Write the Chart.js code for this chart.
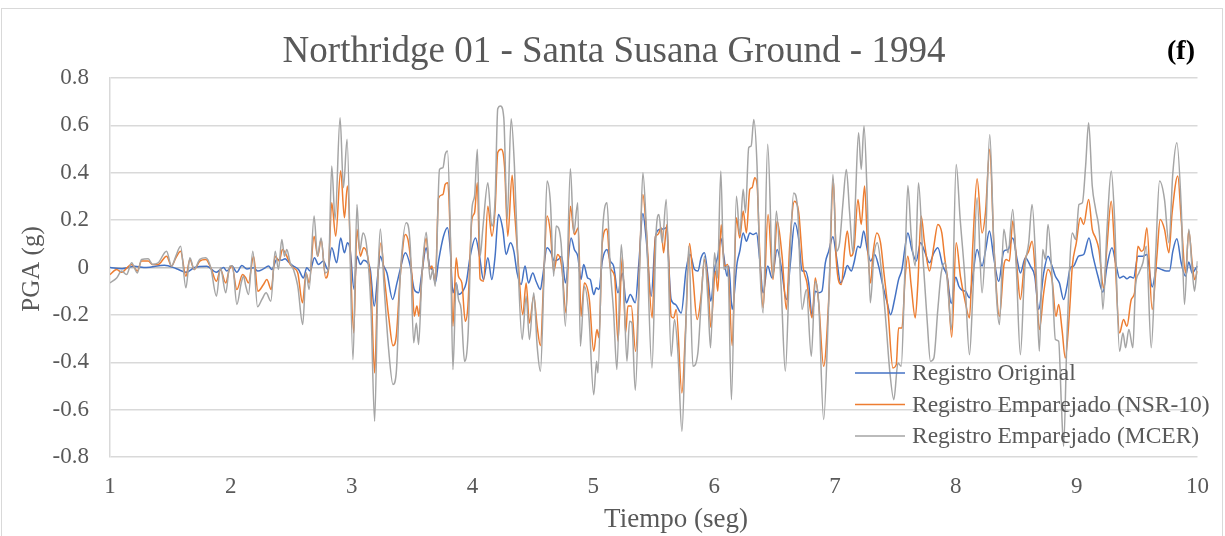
<!DOCTYPE html>
<html><head><meta charset="utf-8">
<script src="https://cdn.jsdelivr.net/npm/chart.js@4.4.1/dist/chart.umd.min.js"></script>
<style>html,body{margin:0;padding:0;background:#fff;}canvas{display:block;}</style>
</head><body>
<canvas id="c" width="1225" height="536"></canvas>
<script>
const chartTitle = 'Northridge 01 - Santa Susana Ground - 1994';
const panelTag = '(f)';
const xAxisTitle = 'Tiempo (seg)';
const yAxisTitle = 'PGA (g)';
const seriesNames = ['Registro Original', 'Registro Emparejado (NSR-10)', 'Registro Emparejado (MCER)'];
const seriesColors = ['#4472C4', '#ED7D31', '#A5A5A5'];
const xMin = 1, xMax = 10, xStep = 1;
const yMin = -0.8, yMax = 0.8, yStep = 0.2;

// [tiempo (s), PGA (g)]
const original = [[1.000,0.000],[1.100,-0.005],[1.200,0.005],[1.300,0.000],[1.450,0.010],[1.550,-0.005],[1.630,-0.020],[1.700,0.000],[1.800,0.005],[1.880,-0.020],[1.940,0.000],[1.967,-0.015],[2.009,0.006],[2.050,-0.020],[2.091,0.008],[2.133,-0.006],[2.188,-0.001],[2.224,-0.015],[2.270,-0.006],[2.312,0.006],[2.339,-0.008],[2.381,0.034],[2.422,0.031],[2.449,0.037],[2.477,0.023],[2.518,0.006],[2.560,-0.008],[2.601,-0.044],[2.628,-0.001],[2.656,-0.015],[2.692,0.041],[2.725,0.013],[2.766,0.027],[2.802,-0.008],[2.835,0.083],[2.876,0.020],[2.909,0.125],[2.940,0.062],[2.965,0.104],[2.987,0.076],[3.020,-0.093],[3.044,0.048],[3.072,0.013],[3.099,0.031],[3.127,0.023],[3.154,-0.008],[3.187,-0.163],[3.215,-0.037],[3.237,0.048],[3.265,0.006],[3.292,-0.023],[3.339,-0.135],[3.375,-0.065],[3.402,-0.008],[3.444,0.062],[3.485,0.006],[3.518,-0.093],[3.554,-0.107],[3.581,-0.023],[3.617,0.083],[3.645,0.006],[3.672,-0.015],[3.692,-0.065],[3.719,0.027],[3.760,0.132],[3.793,0.168],[3.816,0.076],[3.838,-0.107],[3.865,-0.065],[3.884,-0.114],[3.920,-0.100],[3.948,-0.065],[3.981,0.048],[4.025,0.125],[4.058,0.048],[4.091,-0.051],[4.127,0.041],[4.160,-0.051],[4.187,0.048],[4.215,0.224],[4.251,0.161],[4.278,0.055],[4.314,0.104],[4.342,0.069],[4.369,-0.023],[4.402,-0.072],[4.435,0.006],[4.463,-0.065],[4.499,-0.023],[4.526,-0.058],[4.562,-0.093],[4.581,-0.037],[4.617,0.083],[4.650,0.062],[4.678,0.027],[4.711,0.034],[4.738,0.048],[4.769,-0.065],[4.816,0.125],[4.843,0.076],[4.871,0.048],[4.898,-0.051],[4.920,0.013],[4.953,-0.044],[4.975,-0.051],[5.003,-0.114],[5.025,-0.086],[5.047,-0.093],[5.074,0.027],[5.113,0.076],[5.140,0.027],[5.168,0.006],[5.204,-0.107],[5.240,-0.023],[5.273,-0.149],[5.306,-0.114],[5.347,-0.149],[5.377,0.020],[5.410,0.228],[5.438,0.118],[5.479,-0.121],[5.515,0.132],[5.548,0.161],[5.581,0.163],[5.603,0.168],[5.644,-0.135],[5.680,-0.156],[5.727,-0.192],[5.768,-0.008],[5.801,0.055],[5.837,-0.008],[5.865,-0.015],[5.892,0.041],[5.920,0.062],[5.948,-0.037],[5.972,-0.142],[6.003,-0.008],[6.030,0.048],[6.055,0.125],[6.080,0.048],[6.107,-0.037],[6.121,0.006],[6.149,-0.177],[6.190,0.020],[6.212,0.069],[6.240,0.146],[6.267,0.111],[6.295,0.146],[6.322,0.139],[6.350,0.146],[6.377,0.034],[6.405,-0.107],[6.443,0.006],[6.479,-0.044],[6.521,0.076],[6.554,0.006],[6.598,-0.135],[6.631,0.020],[6.667,0.189],[6.700,0.118],[6.727,-0.015],[6.755,-0.015],[6.782,-0.065],[6.810,-0.206],[6.837,-0.100],[6.865,-0.107],[6.892,-0.100],[6.920,0.020],[6.948,0.069],[6.983,0.130],[7.011,0.048],[7.047,-0.065],[7.074,-0.037],[7.102,0.008],[7.135,-0.015],[7.157,0.020],[7.190,0.090],[7.209,0.083],[7.237,0.154],[7.267,0.076],[7.295,0.027],[7.328,0.055],[7.361,0.006],[7.397,-0.079],[7.432,-0.149],[7.460,-0.199],[7.493,-0.135],[7.526,-0.051],[7.554,-0.008],[7.581,0.090],[7.603,0.146],[7.636,0.076],[7.672,0.027],[7.708,0.104],[7.741,0.069],[7.782,0.020],[7.818,0.062],[7.851,0.083],[7.892,0.006],[7.928,-0.037],[7.962,-0.152],[7.999,-0.041],[8.025,-0.079],[8.052,-0.096],[8.080,-0.100],[8.113,-0.128],[8.140,-0.037],[8.176,0.076],[8.217,0.006],[8.245,0.069],[8.278,0.154],[8.314,0.041],[8.355,-0.058],[8.397,0.069],[8.432,0.076],[8.471,0.125],[8.507,0.034],[8.534,-0.023],[8.576,0.041],[8.617,0.006],[8.653,-0.037],[8.686,-0.177],[8.727,-0.023],[8.763,0.048],[8.796,0.006],[8.824,-0.037],[8.857,-0.065],[8.892,-0.135],[8.920,-0.079],[8.948,-0.001],[8.975,0.006],[9.016,0.048],[9.058,0.055],[9.102,0.125],[9.135,0.048],[9.176,-0.037],[9.217,-0.104],[9.251,0.006],[9.292,0.083],[9.328,0.006],[9.355,-0.044],[9.388,-0.037],[9.416,-0.048],[9.443,-0.039],[9.471,-0.044],[9.507,0.048],[9.548,0.048],[9.581,0.055],[9.625,-0.082],[9.664,-0.001],[9.700,-0.008],[9.741,-0.015],[9.768,-0.015],[9.796,0.069],[9.829,0.121],[9.865,0.020],[9.901,-0.037],[9.928,0.023],[9.956,-0.023],[9.989,-0.001],[10.000,0.006]];

const nsr10 = [[1.000,-0.030],[1.055,-0.008],[1.096,-0.020],[1.179,0.013],[1.226,-0.015],[1.261,0.027],[1.316,0.027],[1.352,0.013],[1.399,0.013],[1.468,0.048],[1.509,0.006],[1.545,0.041],[1.584,0.069],[1.628,-0.037],[1.661,0.034],[1.697,-0.008],[1.743,0.027],[1.793,0.034],[1.834,-0.001],[1.881,-0.058],[1.914,-0.008],[1.958,-0.065],[1.987,-0.008],[2.009,0.006],[2.050,-0.093],[2.097,-0.030],[2.124,-0.044],[2.146,-0.065],[2.188,0.048],[2.224,-0.100],[2.270,-0.072],[2.298,-0.051],[2.334,-0.093],[2.367,0.048],[2.400,0.027],[2.427,0.076],[2.463,0.048],[2.491,0.013],[2.518,-0.001],[2.554,-0.023],[2.593,-0.149],[2.623,-0.023],[2.648,-0.065],[2.689,0.132],[2.719,0.048],[2.747,0.118],[2.785,-0.044],[2.808,-0.008],[2.835,0.273],[2.868,0.132],[2.909,0.408],[2.940,0.210],[2.965,0.344],[3.017,-0.276],[3.044,0.161],[3.072,0.048],[3.099,0.083],[3.132,0.048],[3.160,-0.079],[3.190,-0.445],[3.215,-0.065],[3.243,0.104],[3.270,-0.037],[3.306,-0.206],[3.342,-0.330],[3.369,-0.290],[3.402,-0.037],[3.444,0.139],[3.471,0.104],[3.499,-0.037],[3.518,-0.206],[3.540,-0.163],[3.557,-0.206],[3.581,-0.037],[3.617,0.125],[3.645,-0.008],[3.664,0.006],[3.692,-0.065],[3.719,0.294],[3.755,0.308],[3.774,0.351],[3.796,0.358],[3.816,0.132],[3.838,-0.248],[3.865,0.041],[3.884,-0.037],[3.912,-0.065],[3.940,-0.227],[3.962,-0.163],[3.995,0.203],[4.017,0.231],[4.040,0.358],[4.063,-0.048],[4.091,-0.058],[4.127,0.259],[4.160,0.132],[4.187,0.245],[4.209,0.485],[4.237,0.499],[4.265,0.428],[4.292,0.132],[4.328,0.389],[4.347,0.245],[4.375,0.048],[4.416,-0.199],[4.444,-0.065],[4.471,-0.234],[4.507,-0.121],[4.535,-0.248],[4.562,-0.330],[4.590,-0.037],[4.617,0.217],[4.645,0.146],[4.672,-0.015],[4.705,0.055],[4.738,0.006],[4.774,-0.192],[4.810,0.259],[4.843,0.139],[4.876,0.168],[4.898,-0.206],[4.926,-0.065],[4.967,-0.135],[5.003,-0.354],[5.030,-0.262],[5.047,-0.297],[5.074,0.104],[5.113,0.163],[5.140,-0.001],[5.176,-0.037],[5.204,-0.311],[5.240,0.048],[5.267,-0.276],[5.286,-0.163],[5.314,-0.163],[5.350,-0.354],[5.410,0.308],[5.438,0.161],[5.487,-0.213],[5.515,0.132],[5.534,0.139],[5.562,0.168],[5.581,0.062],[5.609,0.182],[5.644,-0.206],[5.664,-0.213],[5.686,-0.177],[5.733,-0.530],[5.763,-0.262],[5.796,0.101],[5.824,-0.037],[5.859,-0.220],[5.892,-0.121],[5.920,0.034],[5.948,-0.065],[5.972,-0.252],[6.011,-0.015],[6.030,-0.100],[6.058,0.180],[6.085,0.006],[6.113,0.013],[6.149,-0.330],[6.184,0.210],[6.212,0.125],[6.240,0.238],[6.267,0.146],[6.295,0.330],[6.314,0.337],[6.336,0.379],[6.355,0.351],[6.377,0.062],[6.405,-0.170],[6.446,0.224],[6.487,-0.051],[6.521,0.196],[6.562,0.048],[6.598,-0.177],[6.625,0.090],[6.664,0.280],[6.700,0.231],[6.735,0.006],[6.768,-0.065],[6.810,-0.213],[6.837,-0.044],[6.865,-0.149],[6.906,-0.417],[6.948,-0.135],[6.986,0.372],[7.011,0.027],[7.052,-0.072],[7.080,0.076],[7.102,0.154],[7.129,0.048],[7.157,0.076],[7.190,0.287],[7.217,0.182],[7.245,0.344],[7.267,0.118],[7.295,-0.065],[7.314,0.055],[7.347,0.146],[7.377,0.104],[7.405,-0.023],[7.438,-0.177],[7.479,-0.424],[7.507,-0.410],[7.526,-0.255],[7.554,-0.255],[7.581,-0.037],[7.603,0.048],[7.631,-0.079],[7.664,-0.213],[7.686,-0.065],[7.713,0.217],[7.741,0.104],[7.782,-0.015],[7.818,0.090],[7.851,0.182],[7.884,0.146],[7.906,0.048],[7.934,-0.065],[7.966,-0.294],[8.003,0.104],[8.038,-0.037],[8.074,-0.135],[8.113,-0.213],[8.140,0.090],[8.176,0.375],[8.217,0.146],[8.245,0.231],[8.281,0.499],[8.314,0.104],[8.361,-0.206],[8.397,0.006],[8.416,0.034],[8.443,0.027],[8.471,0.196],[8.507,-0.008],[8.534,-0.135],[8.570,0.027],[8.603,0.069],[8.631,0.111],[8.664,-0.065],[8.691,-0.262],[8.727,-0.107],[8.763,-0.008],[8.796,-0.051],[8.829,-0.206],[8.851,-0.156],[8.879,-0.262],[8.906,-0.382],[8.942,-0.177],[8.964,0.006],[8.997,0.104],[9.030,0.210],[9.058,0.182],[9.099,0.287],[9.129,0.161],[9.157,0.125],[9.184,0.076],[9.223,-0.086],[9.251,0.090],[9.286,0.280],[9.314,0.076],[9.355,-0.276],[9.388,-0.220],[9.416,-0.248],[9.452,-0.135],[9.479,-0.107],[9.507,0.090],[9.534,0.069],[9.554,0.076],[9.581,0.168],[9.625,-0.177],[9.664,0.048],[9.691,0.203],[9.727,0.161],[9.763,0.062],[9.790,0.231],[9.837,0.386],[9.865,0.203],[9.901,-0.023],[9.928,0.154],[9.956,0.020],[9.975,-0.051],[10.000,-0.015]];

const mcer = [[1.000,-0.065],[1.055,-0.044],[1.096,-0.015],[1.137,-0.030],[1.179,0.020],[1.226,-0.023],[1.261,0.034],[1.316,0.037],[1.352,0.013],[1.399,0.020],[1.468,0.069],[1.509,0.006],[1.545,0.048],[1.584,0.090],[1.628,-0.086],[1.661,0.041],[1.697,-0.008],[1.743,0.034],[1.793,0.041],[1.834,-0.001],[1.881,-0.121],[1.914,-0.001],[1.958,-0.107],[1.991,0.006],[2.014,0.006],[2.050,-0.156],[2.086,-0.065],[2.105,-0.037],[2.124,-0.079],[2.146,-0.114],[2.182,0.069],[2.221,-0.166],[2.257,-0.135],[2.292,-0.107],[2.331,-0.142],[2.367,0.069],[2.394,-0.008],[2.422,0.118],[2.444,0.048],[2.463,0.076],[2.491,0.020],[2.518,-0.008],[2.554,-0.079],[2.595,-0.241],[2.623,-0.023],[2.648,-0.093],[2.689,0.217],[2.717,0.048],[2.747,0.125],[2.780,-0.023],[2.808,-0.008],[2.835,0.428],[2.863,0.203],[2.904,0.632],[2.932,0.337],[2.962,0.541],[3.011,-0.389],[3.044,0.266],[3.066,0.069],[3.094,0.146],[3.127,0.076],[3.160,-0.177],[3.190,-0.649],[3.218,-0.037],[3.237,0.163],[3.270,-0.093],[3.306,-0.346],[3.342,-0.494],[3.369,-0.445],[3.402,-0.037],[3.452,0.189],[3.485,0.090],[3.513,-0.318],[3.535,-0.234],[3.554,-0.325],[3.581,-0.037],[3.617,0.149],[3.650,-0.051],[3.672,-0.008],[3.692,-0.079],[3.727,0.414],[3.755,0.421],[3.774,0.477],[3.793,0.492],[3.816,0.161],[3.838,-0.431],[3.865,-0.065],[3.884,-0.135],[3.906,-0.177],[3.934,-0.396],[3.964,-0.276],[3.995,0.245],[4.017,0.301],[4.040,0.499],[4.063,0.048],[4.086,0.168],[4.127,0.358],[4.160,0.175],[4.187,0.287],[4.209,0.670],[4.232,0.682],[4.259,0.632],[4.287,0.203],[4.320,0.628],[4.347,0.428],[4.375,0.034],[4.411,-0.304],[4.444,-0.121],[4.471,-0.304],[4.507,-0.107],[4.535,-0.332],[4.562,-0.438],[4.590,-0.065],[4.617,0.365],[4.645,0.273],[4.672,-0.037],[4.692,0.175],[4.733,0.104],[4.769,-0.248],[4.810,0.417],[4.838,0.146],[4.871,0.273],[4.893,-0.332],[4.926,-0.079],[4.962,-0.195],[5.003,-0.537],[5.027,-0.396],[5.038,-0.445],[5.074,0.132],[5.113,0.273],[5.140,-0.001],[5.168,-0.192],[5.195,-0.431],[5.231,0.097],[5.251,-0.065],[5.278,-0.396],[5.300,-0.227],[5.319,-0.234],[5.347,-0.518],[5.383,-0.008],[5.410,0.400],[5.438,0.175],[5.485,-0.424],[5.521,0.161],[5.543,0.224],[5.570,0.104],[5.603,0.287],[5.644,-0.375],[5.672,-0.220],[5.700,-0.361],[5.733,-0.692],[5.763,-0.290],[5.790,0.090],[5.824,-0.417],[5.865,-0.361],[5.892,-0.149],[5.920,0.048],[5.948,-0.135],[5.970,-0.339],[6.003,0.062],[6.027,-0.045],[6.055,0.407],[6.080,-0.008],[6.113,0.006],[6.143,-0.558],[6.184,0.301],[6.212,0.139],[6.240,0.330],[6.259,0.231],[6.286,0.506],[6.306,0.513],[6.328,0.625],[6.355,0.428],[6.377,0.020],[6.405,-0.192],[6.443,0.520],[6.487,-0.044],[6.515,0.238],[6.554,-0.079],[6.589,-0.438],[6.625,0.020],[6.658,0.315],[6.691,0.245],[6.727,-0.177],[6.763,-0.093],[6.804,-0.375],[6.837,-0.058],[6.865,-0.149],[6.906,-0.642],[6.948,-0.149],[6.983,0.393],[7.011,0.069],[7.038,0.104],[7.066,0.273],[7.094,0.414],[7.121,0.231],[7.149,0.062],[7.168,0.273],[7.195,0.569],[7.217,0.414],[7.240,0.597],[7.267,0.287],[7.292,-0.149],[7.322,0.048],[7.350,0.104],[7.383,-0.008],[7.424,-0.248],[7.452,-0.431],[7.487,-0.558],[7.521,-0.403],[7.548,-0.417],[7.576,-0.051],[7.603,0.346],[7.631,0.132],[7.664,0.006],[7.691,0.358],[7.727,0.048],[7.763,-0.227],[7.790,-0.396],[7.818,-0.382],[7.851,-0.177],[7.879,-0.023],[7.912,0.020],[7.939,-0.121],[7.963,-0.262],[8.003,0.435],[8.035,0.210],[8.074,-0.037],[8.113,-0.368],[8.140,-0.121],[8.176,0.294],[8.217,-0.107],[8.245,0.104],[8.281,0.562],[8.314,0.104],[8.361,-0.241],[8.397,0.161],[8.432,0.062],[8.471,0.245],[8.501,-0.008],[8.534,-0.368],[8.570,-0.008],[8.603,0.104],[8.631,0.266],[8.664,-0.008],[8.691,-0.354],[8.719,0.076],[8.741,0.034],[8.763,0.182],[8.796,-0.037],[8.824,-0.304],[8.851,-0.311],[8.873,-0.572],[8.892,-0.755],[8.920,-0.290],[8.964,0.146],[8.992,0.118],[9.019,0.266],[9.047,0.273],[9.074,0.428],[9.099,0.611],[9.129,0.344],[9.157,0.245],[9.190,0.132],[9.217,-0.177],[9.251,0.161],[9.286,0.407],[9.314,0.203],[9.355,-0.354],[9.383,-0.276],[9.405,-0.339],[9.432,-0.262],[9.465,-0.339],[9.487,-0.079],[9.515,-0.023],[9.548,0.020],[9.576,0.090],[9.617,-0.339],[9.653,0.048],[9.686,0.365],[9.727,0.287],[9.763,0.104],[9.796,0.400],[9.829,0.527],[9.865,0.259],[9.892,-0.156],[9.928,0.161],[9.956,-0.008],[9.975,-0.100],[10.000,0.027]];

const FONT = '"Liberation Serif", "Times New Roman", serif';
const TEXT = '#595959';

const toXY = arr => arr.map(p => ({x: p[0], y: p[1]}));
const seriesData = [original, nsr10, mcer];

const decor = {
  id: 'decor',
  beforeDraw(chart) {
    const c = chart.ctx;
    c.save();
    c.fillStyle = '#fff';
    c.fillRect(0, 0, chart.width, chart.height);
    c.strokeStyle = '#d9d9d9';
    c.lineWidth = 1;
    c.strokeRect(1.5, 8.5, 1221, 545);
    c.restore();
  },
  afterDraw(chart) {
    const c = chart.ctx, a = chart.chartArea;
    c.save();
    c.textAlign = 'center';
    c.textBaseline = 'middle';
    c.fillStyle = TEXT;
    c.font = '37px ' + FONT;
    c.fillText(chartTitle, 614, 52);
    c.fillStyle = '#000';
    c.font = 'bold 28px ' + FONT;
    c.fillText(panelTag, 1181, 52);
    c.fillStyle = TEXT;
    c.font = '27px ' + FONT;
    c.fillText(xAxisTitle, 676, 520);
    // legend (inside plot, transparent)
    c.textAlign = 'left';
    c.font = '23.5px ' + FONT;
    chart.data.datasets.forEach((ds, i) => {
      const y = 373 + i * 31.5;
      c.strokeStyle = ds.borderColor;
      c.lineWidth = 1.5;
      c.beginPath(); c.moveTo(855, y); c.lineTo(905, y); c.stroke();
      c.fillStyle = TEXT;
      c.fillText(ds.label, 912, y + 1);
    });
    c.textAlign = 'center';
    c.font = '25px ' + FONT;
    c.translate(32, 269);
    c.rotate(-Math.PI / 2);
    c.fillText(yAxisTitle, 0, 0);
    c.restore();
  }
};

new Chart(document.getElementById('c'), {
  type: 'line',
  data: {
    datasets: seriesNames.map((name, i) => ({
      label: name,
      data: toXY(seriesData[i]),
      borderColor: seriesColors[i],
      backgroundColor: seriesColors[i],
      borderWidth: 1.5,
      pointRadius: 0,
      fill: false,
      cubicInterpolationMode: 'monotone',
      order: 2 - i
    }))
  },
  options: {
    responsive: false,
    animation: false,
    devicePixelRatio: 1,
    layout: { padding: { top: 78, right: 26, left: 0, bottom: 0 } },
    plugins: { legend: { display: false }, title: { display: false }, tooltip: { enabled: false } },
    scales: {
      x: {
        type: 'linear', min: xMin, max: xMax,
        ticks: { stepSize: xStep, color: TEXT, font: { family: FONT, size: 23 }, padding: 16, maxRotation: 0 },
        grid: { display: false, drawTicks: false },
        border: { display: false },
        afterFit(s) { s.height = 79; }
      },
      y: {
        type: 'linear', min: yMin, max: yMax,
        ticks: { stepSize: yStep, color: TEXT, font: { family: FONT, size: 23 }, padding: 21,
          callback: v => String(Math.round(v * 10) / 10) },
        grid: { drawTicks: false, lineWidth: 1.5,
          color: ctx => (ctx.tick && Math.abs(ctx.tick.value) < 1e-9) ? '#bfbfbf' : '#d9d9d9' },
        border: { display: true, color: '#d9d9d9', width: 1.5 },
        afterFit(s) { s.width = 110; }
      }
    }
  },
  plugins: [decor]
});
</script>
</body></html>
